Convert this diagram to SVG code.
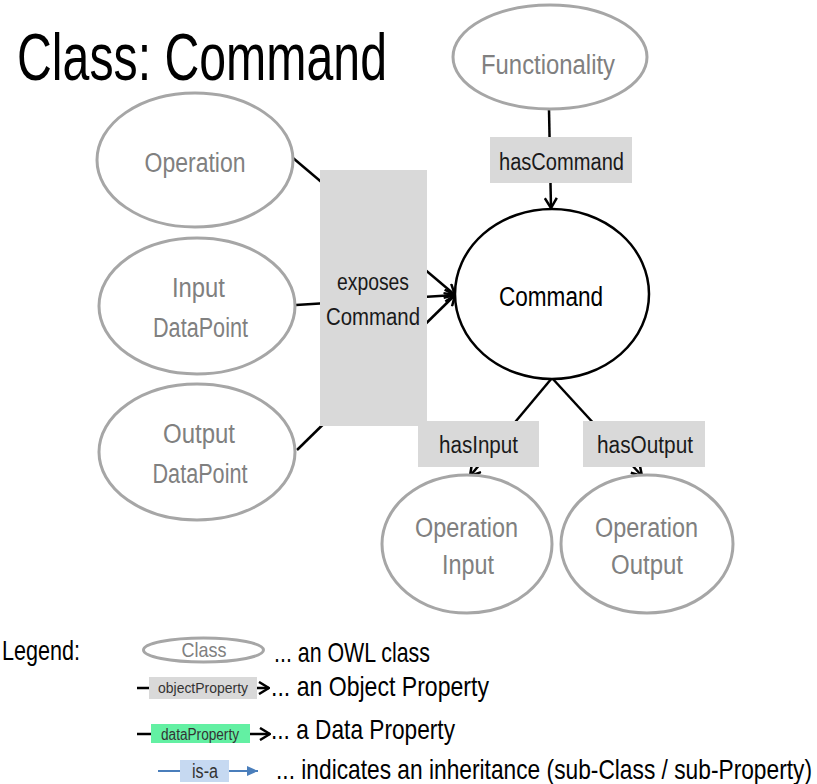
<svg xmlns="http://www.w3.org/2000/svg" width="817" height="784" viewBox="0 0 817 784">
<style>
text{font-family:"Liberation Sans",Arial,sans-serif;text-anchor:middle}
.cls{fill:#fff;stroke:#a6a6a6;stroke-width:3}
.main{fill:#fff;stroke:#000;stroke-width:2.5}
.ct{font-size:27px;fill:#808080}
.lbox{fill:#d9d9d9}
.lt{font-size:23px;fill:#1a1a1a}
.edge{stroke:#000;stroke-width:2.5;fill:none}
.leg{font-size:28px;fill:#000;text-anchor:start}
</style>
<defs>
<marker id="arr" markerUnits="userSpaceOnUse" viewBox="0 0 12 14" refX="11" refY="7" markerWidth="12" markerHeight="14" orient="auto">
<path d="M1,1 L11,7 L1,13" fill="none" stroke="#000" stroke-width="2.5"/>
</marker>
<marker id="arrb" markerUnits="userSpaceOnUse" viewBox="0 0 12 12" refX="11" refY="6" markerWidth="12" markerHeight="12" orient="auto">
<path d="M0,1 L11,6 L0,11 Z" fill="#4a7ebb"/>
</marker>
</defs>
<rect width="817" height="784" fill="#fff"/>
<text transform="translate(17,80) scale(1,1.4)" x="0" y="0" style="font-size:48px;text-anchor:start" textLength="370" lengthAdjust="spacingAndGlyphs">Class: Command</text>

<g id="connectors">
<line class="edge" x1="293" y1="158" x2="455" y2="295" marker-end="url(#arr)"/>
<line class="edge" x1="296" y1="305" x2="455" y2="295" marker-end="url(#arr)"/>
<line class="edge" x1="297" y1="450" x2="455" y2="295" marker-end="url(#arr)"/>
<line class="edge" x1="549" y1="110" x2="551" y2="208" marker-end="url(#arr)"/>
<line class="edge" x1="552" y1="378" x2="470" y2="476" marker-end="url(#arr)"/>
<line class="edge" x1="552" y1="378" x2="642" y2="476" marker-end="url(#arr)"/>
</g>

<g id="label-exposesCommand">
<rect class="lbox" x="320" y="170" width="107" height="256"/>
<text class="lt" x="373" y="290" textLength="72" lengthAdjust="spacingAndGlyphs">exposes</text>
<text class="lt" x="373" y="325" textLength="94" lengthAdjust="spacingAndGlyphs">Command</text>
</g>
<g id="label-hasCommand">
<rect class="lbox" x="490" y="137" width="142" height="46"/>
<text class="lt" x="561.5" y="170" textLength="125" lengthAdjust="spacingAndGlyphs">hasCommand</text>
</g>
<g id="label-hasInput">
<rect class="lbox" x="418" y="421" width="121" height="46"/>
<text class="lt" x="478.5" y="453" textLength="79" lengthAdjust="spacingAndGlyphs">hasInput</text>
</g>
<g id="label-hasOutput">
<rect class="lbox" x="583" y="421" width="122" height="46"/>
<text class="lt" x="645" y="453" textLength="96" lengthAdjust="spacingAndGlyphs">hasOutput</text>
</g>

<g id="node-Operation">
<ellipse class="cls" cx="195" cy="160" rx="98" ry="67"/>
<text class="ct" x="195" y="172" textLength="101" lengthAdjust="spacingAndGlyphs">Operation</text>
</g>
<g id="node-InputDataPoint">
<ellipse class="cls" cx="197" cy="306" rx="98" ry="68"/>
<text class="ct" x="198.5" y="297" textLength="53" lengthAdjust="spacingAndGlyphs">Input</text>
<text class="ct" x="200.5" y="337" textLength="95" lengthAdjust="spacingAndGlyphs">DataPoint</text>
</g>
<g id="node-OutputDataPoint">
<ellipse class="cls" cx="197" cy="452" rx="98" ry="68"/>
<text class="ct" x="199" y="443" textLength="72" lengthAdjust="spacingAndGlyphs">Output</text>
<text class="ct" x="200" y="483" textLength="95" lengthAdjust="spacingAndGlyphs">DataPoint</text>
</g>
<g id="node-Functionality">
<ellipse class="cls" cx="550" cy="57" rx="97" ry="52"/>
<text class="ct" x="548" y="74" textLength="134" lengthAdjust="spacingAndGlyphs">Functionality</text>
</g>
<g id="node-Command">
<ellipse class="main" cx="552" cy="294" rx="97" ry="85"/>
<text class="ct" x="551" y="306" style="fill:#000" textLength="104" lengthAdjust="spacingAndGlyphs">Command</text>
</g>
<g id="node-OperationInput">
<ellipse class="cls" cx="467" cy="544" rx="85" ry="69"/>
<text class="ct" x="466.5" y="537" textLength="103" lengthAdjust="spacingAndGlyphs">Operation</text>
<text class="ct" x="468" y="574" textLength="52" lengthAdjust="spacingAndGlyphs">Input</text>
</g>
<g id="node-OperationOutput">
<ellipse class="cls" cx="647" cy="544" rx="86" ry="69"/>
<text class="ct" x="646.5" y="537" textLength="103" lengthAdjust="spacingAndGlyphs">Operation</text>
<text class="ct" x="647" y="574" textLength="72" lengthAdjust="spacingAndGlyphs">Output</text>
</g>

<g id="legend">
<text class="leg" x="2" y="660" textLength="78" lengthAdjust="spacingAndGlyphs">Legend:</text>
<ellipse class="cls" cx="203.5" cy="650" rx="60" ry="12"/>
<text x="204" y="657" style="font-size:21px;fill:#808080" textLength="45" lengthAdjust="spacingAndGlyphs">Class</text>
<text class="leg" x="274" y="662" textLength="156" lengthAdjust="spacingAndGlyphs">... an OWL class</text>

<line class="edge" x1="137" y1="688" x2="149" y2="688"/>
<rect x="149" y="677" width="108" height="22" fill="#d9d9d9"/>
<text x="203" y="693" style="font-size:15px;fill:#333" textLength="90" lengthAdjust="spacingAndGlyphs">objectProperty</text>
<line class="edge" x1="257" y1="688" x2="269" y2="688" marker-end="url(#arr)"/>
<text class="leg" x="271" y="696" textLength="218" lengthAdjust="spacingAndGlyphs">... an Object Property</text>

<line class="edge" x1="137" y1="734" x2="151" y2="734"/>
<rect x="151" y="724" width="99" height="19" fill="#63f0a3"/>
<text x="200" y="740" style="font-size:16px;fill:#333" textLength="78" lengthAdjust="spacingAndGlyphs">dataProperty</text>
<line class="edge" x1="250" y1="734" x2="270" y2="734" marker-end="url(#arr)"/>
<text class="leg" x="271" y="739" textLength="184" lengthAdjust="spacingAndGlyphs">... a Data Property</text>

<line x1="158" y1="771" x2="180" y2="771" stroke="#4a7ebb" stroke-width="2"/>
<rect x="180" y="760" width="49" height="22" fill="#c6d9f1"/>
<text x="205" y="778" style="font-size:20px;fill:#333" textLength="26" lengthAdjust="spacingAndGlyphs">is-a</text>
<line x1="229" y1="771" x2="258" y2="771" stroke="#4a7ebb" stroke-width="2" marker-end="url(#arrb)"/>
<text transform="translate(276,779) scale(1,1.2)" x="0" y="0" style="font-size:23px;text-anchor:start" textLength="536" lengthAdjust="spacingAndGlyphs">... indicates an inheritance (sub-Class / sub-Property)</text>
</g>
</svg>
